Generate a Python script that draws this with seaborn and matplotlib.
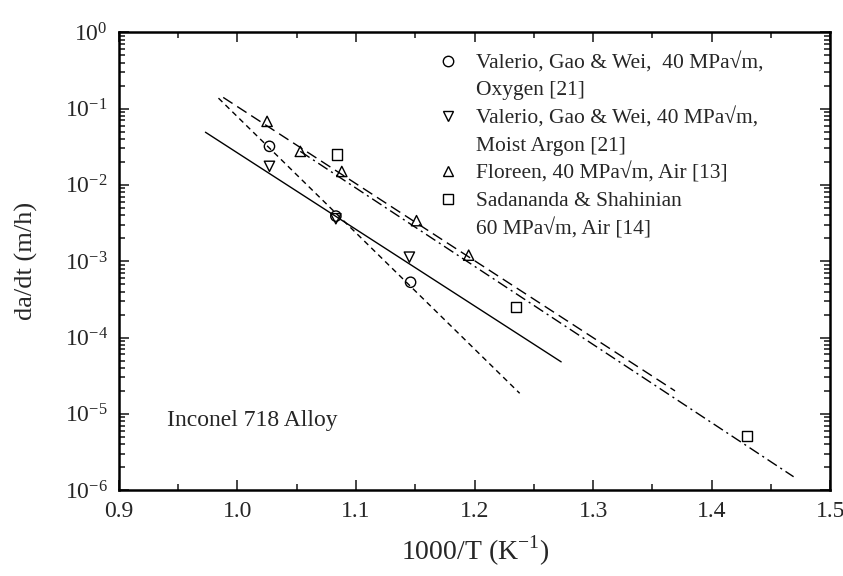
import numpy as np
import pandas as pd
import seaborn as sns
import matplotlib.pyplot as plt
from matplotlib.lines import Line2D
from matplotlib.ticker import LogLocator, MultipleLocator, NullFormatter

# 数据
oxy_x = [1.027, 1.083, 1.146]
oxy_y = [3.2e-2, 3.9e-3, 5.3e-4]

argon_x = [1.027, 1.083, 1.145]
argon_y = [1.75e-2, 3.6e-3, 1.13e-3]

floreen_x = [1.025, 1.053, 1.088, 1.151, 1.195]
floreen_y = [6.8e-2, 2.75e-2, 1.5e-2, 3.4e-3, 1.2e-3]

sada_x = [1.084, 1.235, 1.430]
sada_y = [2.5e-2, 2.5e-4, 5.1e-6]

# 拟合线端点
fit_oxy_x = [0.984, 1.238]
fit_oxy_y = [1.37e-1, 1.86e-5]
fit_argon_x = [0.973, 1.273]
fit_argon_y = [4.9e-2, 4.8e-5]
fit_floreen_x = [0.988, 1.369]
fit_floreen_y = [1.4e-1, 2.0e-5]
fit_sada_x = [1.053, 1.469]
fit_sada_y = [2.75e-2, 1.5e-6]

legend_labels = [
    "Valerio, Gao & Wei,  40 MPa\u221am,",
    "Oxygen [21]",
    "Valerio, Gao & Wei, 40 MPa\u221am,",
    "Moist Argon [21]",
    "Floreen, 40 MPa\u221am, Air [13]",
    "Sadananda & Shahinian",
    "60 MPa\u221am, Air [14]",
]

sns.set_style('ticks')
plt.rcParams['font.family'] = ['Liberation Serif', 'DejaVu Serif']
plt.rcParams['mathtext.fontset'] = 'custom'
plt.rcParams['mathtext.rm'] = 'Liberation Serif'
plt.rcParams['axes.unicode_minus'] = False

fig = plt.figure(figsize=(8.43, 5.76), dpi=100)
ax = fig.add_axes([0.141, 0.149, 0.844, 0.795])

# 拟合线
sns.lineplot(x=fit_oxy_x, y=fit_oxy_y, ax=ax, color='k', lw=1.0, linestyle=(0, (4, 3)))
sns.lineplot(x=fit_argon_x, y=fit_argon_y, ax=ax, color='k', lw=1.0, linestyle='-')
sns.lineplot(x=fit_floreen_x, y=fit_floreen_y, ax=ax, color='k', lw=1.0, linestyle=(0, (8, 4)))
sns.lineplot(x=fit_sada_x, y=fit_sada_y, ax=ax, color='k', lw=1.0, linestyle=(0, (8, 3, 1.5, 3)))

# 数据点
for xs, ys, m in [(oxy_x, oxy_y, 'o'), (argon_x, argon_y, 'v'),
                  (floreen_x, floreen_y, '^'), (sada_x, sada_y, 's')]:
    sns.scatterplot(x=xs, y=ys, ax=ax, marker=m, s=55, facecolor='none',
                    edgecolor='k', linewidth=1.0, zorder=3)

ax.set_yscale('log')
ax.set_xlim(0.9, 1.5)
ax.set_ylim(1e-6, 1e0)
ax.xaxis.set_major_locator(MultipleLocator(0.1))
ax.xaxis.set_minor_locator(MultipleLocator(0.05))
ax.xaxis.set_major_formatter(plt.FuncFormatter(lambda v, p: f"{v:.1f}"))
ax.yaxis.set_major_locator(LogLocator(base=10, numticks=10))
ax.yaxis.set_minor_locator(LogLocator(base=10, subs=np.arange(2, 10), numticks=100))
ax.yaxis.set_minor_formatter(NullFormatter())

ax.tick_params(which='both', direction='in', top=True, right=True, labelsize=17, width=1.2)
ax.tick_params(which='major', length=7, pad=8)
ax.tick_params(which='minor', length=4)
for sp in ax.spines.values():
    sp.set_linewidth(1.8)
    sp.set_color('k')

ax.set_xlabel(r"1000/T (K$^{\mathdefault{-1}}$)", fontsize=20, labelpad=8)
ax.set_ylabel("da/dt (m/h)", fontsize=19, labelpad=19)

ax.text(0.941, 8.3e-6, "Inconel 718 Alloy", fontsize=17, va='center', ha='left')

# 图例
blank = Line2D([], [], linestyle='none', marker=None)
def mk(m):
    return Line2D([], [], linestyle='none', marker=m, markersize=7.5,
                  markerfacecolor='none', markeredgecolor='k', markeredgewidth=1.0)
handles = [mk('o'), blank, mk('v'), blank, mk('^'), mk('s'), blank]
ax.legend(handles, legend_labels, loc='upper left', bbox_to_anchor=(0.447, 0.957),
          frameon=False, fontsize=15.5, handlelength=1.0, handletextpad=0.8,
          borderpad=0, borderaxespad=0, labelspacing=0.33)

plt.savefig('out.png', dpi=100)
